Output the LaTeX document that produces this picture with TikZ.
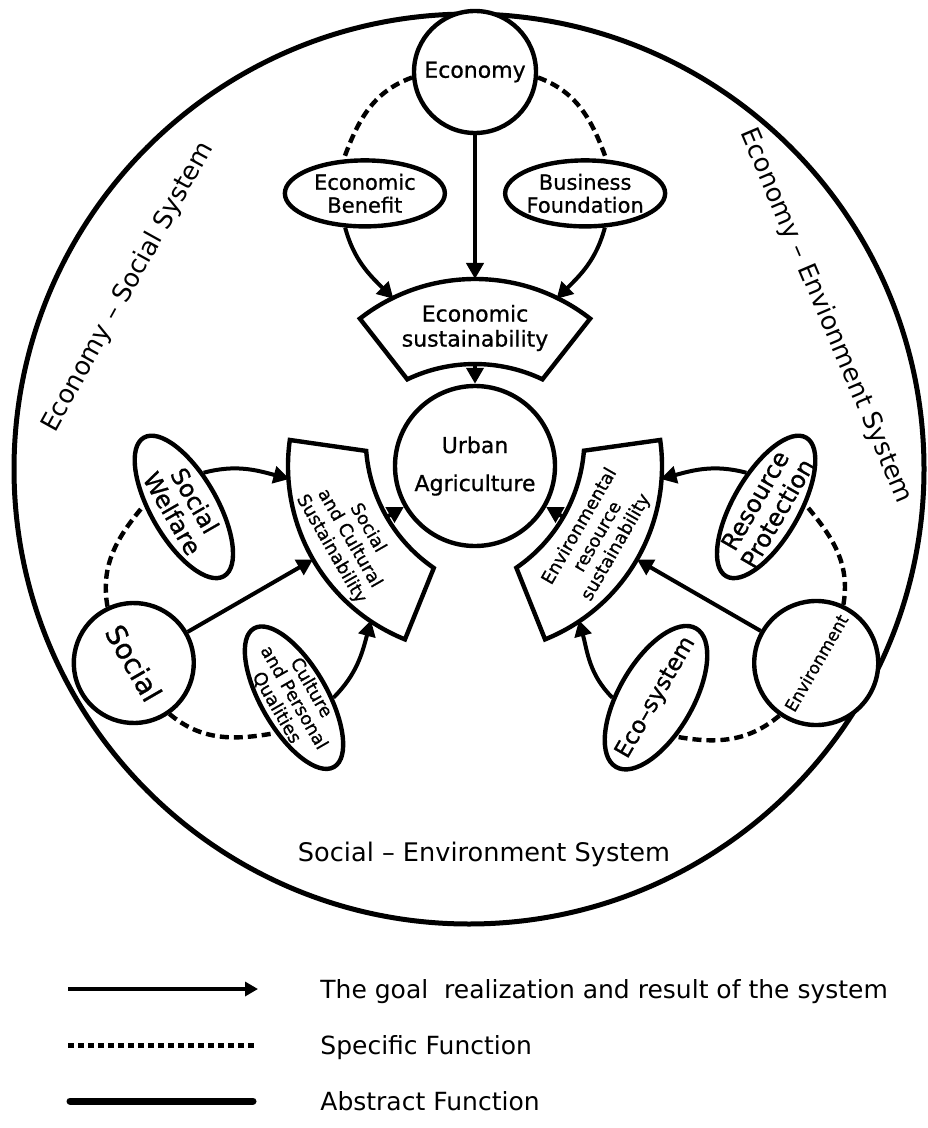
\documentclass[tikz,border=0pt]{standalone}
\usepackage{fontspec}
\setmainfont{DejaVu Sans}[FakeBold=0.8]
\newfontfamily\legendfont{DejaVu Sans}
\usepackage{tikz}
\usetikzlibrary{arrows.meta}
\usetikzlibrary{shapes.geometric}
\usetikzlibrary{calc}
\tikzset{%
  hubnode/.style={circle, draw=black, line width=2.2pt, fill=white, inner sep=0pt},
  factornode/.style={ellipse, draw=black, line width=2.2pt, fill=white, inner xsep=-3pt, inner ysep=-3pt, minimum width=80pt, minimum height=33pt, align=center},
  band/.style={draw=black, line width=2.2pt, fill=white, line join=miter},
  bandtext/.style={align=center, inner sep=0pt},
  goal/.style={-{Triangle[length=8pt, width=8.5pt]}, line width=2pt},
  specific/.style={line width=2.2pt, dash pattern=on 4.5pt off 2.5pt},
  systemlabel/.style={font=\legendfont\fontsize{12.8}{15}\selectfont, inner sep=0pt},
  legendtext/.style={font=\legendfont\fontsize{12.5}{15}\selectfont, anchor=base west, inner sep=0pt}
}
% curved sustainability band around the centre (c): #1 direction, #2 prefix
\newcommand{\sustband}[2]{%
  \draw[band] ($(c)+(#1+38:187)$) -- ($(c)+(#1+38:110)$)
    arc[start angle=#1+25.5, end angle=#1-25.5, radius=157]
    -- ($(c)+(#1-38:187)$)
    arc[start angle=#1-38, end angle=#1+38, radius=187] -- cycle;
  \coordinate (#2-m) at ($(c)+(#1:187)$);
  \coordinate (#2-l) at ($(c)+(#1+26:186)$);
  \coordinate (#2-r) at ($(c)+(#1-26:186)$);
  \coordinate (#2-in) at ($(c)+(#1:102)$);
}
\begin{document}
\begin{tikzpicture}[x=0.5pt, y=0.5pt]
        \useasboundingbox (0,0) rectangle (927,-1128);
        \coordinate (c) at (475,-466);

        % outer circle and the three system names
        \draw[line width=2.5pt] (469,-469) circle (455);
        \node[systemlabel, rotate=61]  (sys-es) at (128,-287) {Economy – Social System};
        \node[systemlabel, rotate=-67] (sys-ee) at (826,-316) {Economy – Envionment System};
        \node[systemlabel]             (sys-se) at (484,-854) {Social – Environment System};

        % bands
        \sustband{90}{es}
        \sustband{210}{sc}
        \sustband{330}{er}
        \node[bandtext, font=\fontsize{11}{12.5}\selectfont]            (es) at ($(c)+(90:138)$)  {Economic\\sustainability};
        \node[bandtext, rotate=-60, font=\fontsize{9}{10.5}\selectfont] (sc) at ($(c)+(210:145)$) {Social\\and Cultural\\Sustainability};
        \node[bandtext, rotate=60, font=\fontsize{9}{10.5}\selectfont]  (er) at ($(c)+(330:142)$) {Environmental\\resource\\sustainability};

        % hubs
        \node[hubnode, minimum size=80pt, align=center, font=\fontsize{11}{19}\selectfont] (urban) at (c) {Urban\\Agriculture};
        \node[hubnode, minimum size=61pt, font=\fontsize{11}{13}\selectfont]               (econ) at ($(c)+(90:394)$) {Economy};
        \node[hubnode, minimum size=60pt, rotate=-60, font=\fontsize{14}{16}\selectfont]   (social) at ($(c)+(210:394)$) {Social};
        \node[hubnode, minimum size=62pt, rotate=60, font=\fontsize{8.5}{10}\selectfont]   (env) at ($(c)+(330:394)$) {Environment};

        % factors
        \node[factornode, font=\fontsize{10.5}{11.5}\selectfont]             (benefit) at ($(c)+(112:294)$) {Economic\\Benefit};
        \node[factornode, font=\fontsize{10.5}{11.5}\selectfont]             (business) at ($(c)+(68:294)$) {Business\\Foundation};
        \node[factornode, rotate=-60, font=\fontsize{12}{13}\selectfont]     (welfare) at ($(c)+(188:294)$) {Social\\Welfare};
        \node[factornode, rotate=-60, font=\fontsize{9}{10}\selectfont]      (culture) at ($(c)+(232:294)$) {Culture\\and Personal\\Qualities};
        \node[factornode, rotate=60, font=\fontsize{12}{13}\selectfont]      (resource) at ($(c)+(352:294)$) {Resource\\Protection};
        \node[factornode, rotate=60, minimum height=37pt, inner xsep=-6pt, font=\fontsize{11.5}{13}\selectfont] (eco) at ($(c)+(308:294)$) {Eco–system};

        % goal realization
        \draw[goal] (econ) -- (es-m);
        \draw[goal] (benefit.240) to[out=285, in=135] (es-l);
        \draw[goal] (business.300) to[out=255, in=45] (es-r);
        \draw[goal] (es-in) -- (urban);

        \draw[goal] (social) -- (sc-m);
        \draw[goal] (welfare.120) to[out=15, in=165] (sc-r);
        \draw[goal] (culture.60) to[out=45, in=255] (sc-l);
        \draw[goal] (sc-in) -- (urban);

        \draw[goal] (env) -- (er-m);
        \draw[goal] (resource.60) to[out=165, in=15] (er-l);
        \draw[goal] (eco.120) to[out=135, in=285] (er-r);
        \draw[goal] (er-in) -- (urban);

        % specific functions
        \draw[specific] (econ.185) to[out=200, in=70] (benefit.122);
        \draw[specific] (econ.-5) to[out=-20, in=110] (business.58);
        \draw[specific] (social.5) to[out=320, in=190] (culture.302);
        \draw[specific] (social.175) to[out=100, in=230] (welfare.238);
        \draw[specific] (env.5) to[out=80, in=310] (resource.302);
        \draw[specific] (env.175) to[out=220, in=350] (eco.238);

        % legend
        \coordinate (lg-a1) at (68,-989);
        \coordinate (lg-a2) at (258,-989);
        \coordinate (lg-d1) at (68,-1045);
        \coordinate (lg-d2) at (255,-1045);
        \coordinate (lg-s1) at (70,-1101);
        \coordinate (lg-s2) at (253,-1101);
        \draw[line width=2pt, -{Triangle[length=6.5pt, width=7pt]}] (lg-a1) -- (lg-a2);
        \draw[line width=2.5pt, dash pattern=on 3pt off 2pt] (lg-d1) -- (lg-d2);
        \draw[line width=3.5pt, line cap=round] (lg-s1) -- (lg-s2);
        \node[legendtext] (lg-goal) at (320,-998) {The goal\ \ realization and result of the system};
        \node[legendtext] (lg-spec) at (320,-1054) {Specific Function};
        \node[legendtext] (lg-abst) at (320,-1110) {Abstract Function};
    \end{tikzpicture}
\end{document}
